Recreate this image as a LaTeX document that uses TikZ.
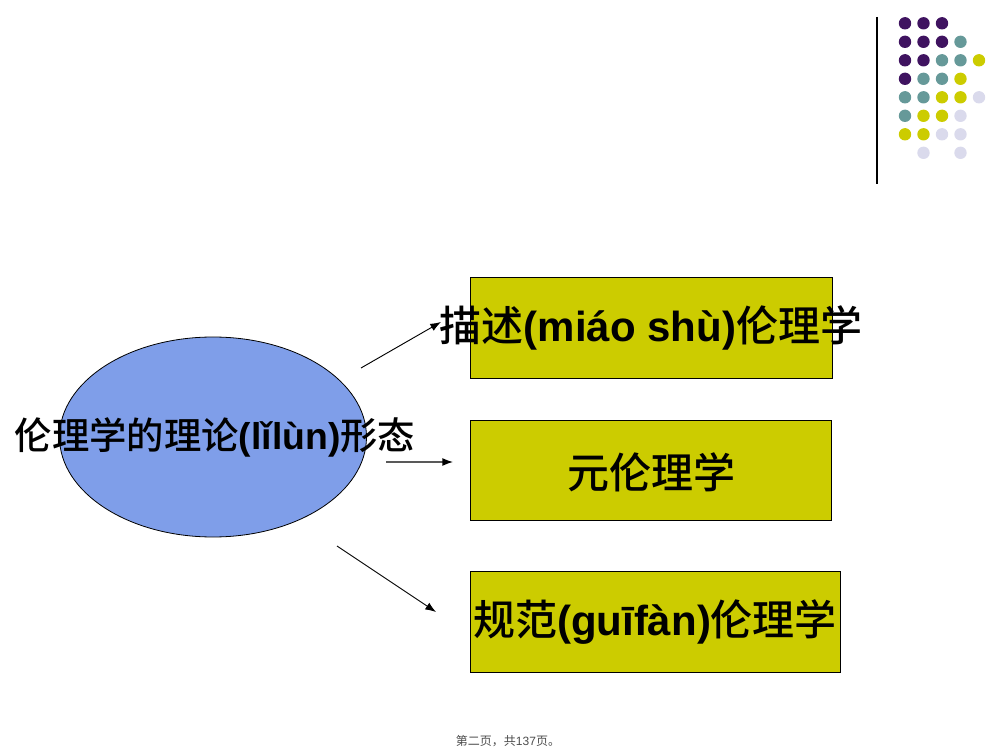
\documentclass[tikz,border=0pt]{standalone}
\usepackage{fontspec}
\usetikzlibrary{shapes.geometric,arrows.meta}
\setmainfont{Liberation Sans}
\newfontfamily\cjk{Noto Sans CJK SC}[BoldFont={Noto Sans CJK SC Medium}]
\definecolor{dpurple}{HTML}{3F1360}
\definecolor{dteal}{HTML}{669999}
\definecolor{dyellow}{HTML}{CCCC00}
\definecolor{dlav}{HTML}{DADAEC}
\definecolor{ellblue}{HTML}{7F9EE9}
\tikzset{
	formbox/.style={draw,fill=dyellow,line width=0.6pt,minimum width=362*0.75pt,minimum height=101*0.75pt,inner sep=0pt},
	bigtext/.style={font=\bfseries\fontsize{31.5}{36}\selectfont},
	formarrow/.style={-{Latex[length=8pt,width=6pt,color=black]},line width=0.7pt},
}
\begin{document}
\begin{tikzpicture}[x=0.75pt,y=-0.75pt]
	\useasboundingbox (0,0) rectangle (1008,756);
	\draw[line width=0.9pt] (877,17) -- (877,184);
	\foreach \c/\r/\col in {0/0/dpurple,1/0/dpurple,2/0/dpurple,
		0/1/dpurple,1/1/dpurple,2/1/dpurple,3/1/dteal,
		0/2/dpurple,1/2/dpurple,2/2/dteal,3/2/dteal,4/2/dyellow,
		0/3/dpurple,1/3/dteal,2/3/dteal,3/3/dyellow,
		0/4/dteal,1/4/dteal,2/4/dyellow,3/4/dyellow,4/4/dlav,
		0/5/dteal,1/5/dyellow,2/5/dyellow,3/5/dlav,
		0/6/dyellow,1/6/dyellow,2/6/dlav,3/6/dlav,
		1/7/dlav,3/7/dlav}
		\fill[\col] (905+18.5*\c,23.3+18.5*\r) circle(6.2);
	\node[draw,ellipse,fill=ellblue,line width=0.6pt,minimum width=307*0.75pt,minimum height=200*0.75pt,inner sep=0pt] (form) at (213,437) {};
	\node[font=\bfseries\fontsize{28}{34}\selectfont] (formtext) at (215,437) {{\cjk 伦理学的理论}(lǐlùn){\cjk 形态}};
	\node[formbox] (desc) at (651,327.5) {};
	\node[formbox,minimum width=361*0.75pt,minimum height=100*0.75pt] (meta) at (650.5,470) {};
	\node[formbox,minimum width=370*0.75pt] (norm) at (655,621.5) {};
	\node[bigtext] (desctext) at (651,328) {{\cjk 描述}(miáo shù){\cjk 伦理学}};
	\node[bigtext] (metatext) at (651,472) {\cjk 元伦理学};
	\node[bigtext] (normtext) at (655,622) {{\cjk 规范}(guīfàn){\cjk 伦理学}};
	\coordinate (a1s) at (361,368);
	\coordinate (a1e) at (441,322);
	\coordinate (a2s) at (386,462);
	\coordinate (a2e) at (453,462);
	\coordinate (a3s) at (337,546);
	\coordinate (a3e) at (436,612);
	\draw[formarrow] (a1s) -- (a1e);
	\draw[formarrow,line width=1pt,draw=black!65] (a2s) -- (a2e);
	\draw[formarrow] (a3s) -- (a3e);
	\node[text=black!70,font=\fontsize{9}{10}\selectfont] (foot) at (508,741) {{\cjk 第二页，共}137{\cjk 页。}};
\end{tikzpicture}
\end{document}
